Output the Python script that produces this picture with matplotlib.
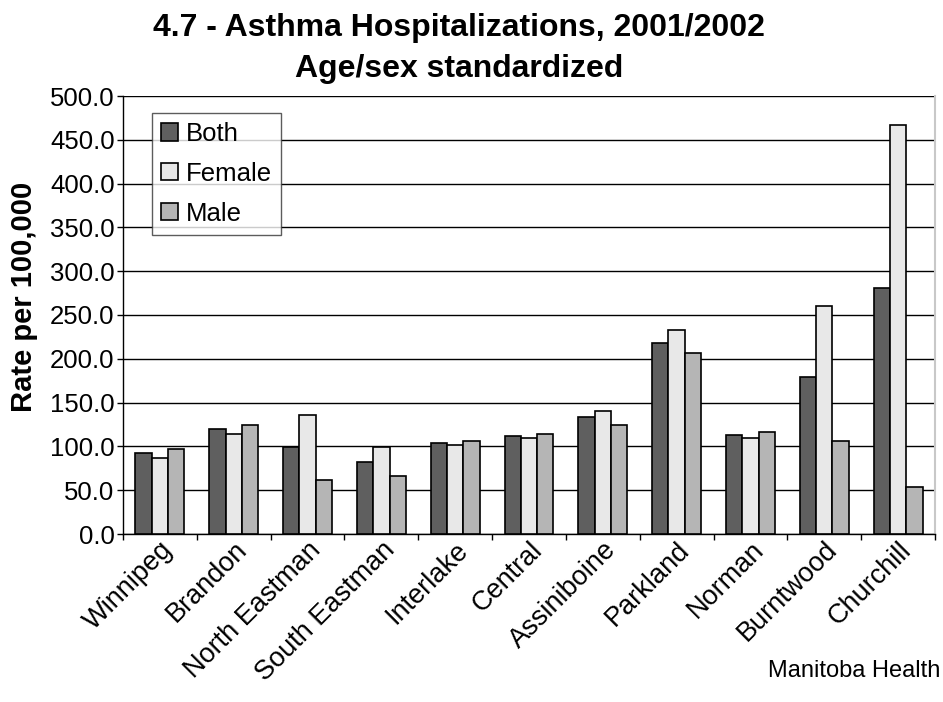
import matplotlib
matplotlib.use("Agg")
import matplotlib.pyplot as plt
import numpy as np

plt.rcParams['font.family'] = ['Liberation Sans', 'DejaVu Sans']

regions = ["Winnipeg", "Brandon", "North Eastman", "South Eastman", "Interlake",
           "Central", "Assiniboine", "Parkland", "Norman", "Burntwood", "Churchill"]
both = [92.7, 120.1, 99.2, 82.0, 104.1, 112.1, 133.9, 218.5, 112.9, 179.6, 281.1]
female = [86.3, 114.0, 135.8, 99.2, 101.1, 109.8, 140.4, 233.0, 109.1, 260.5, 466.5]
male = [96.6, 124.7, 61.1, 66.0, 105.7, 114.4, 124.4, 206.7, 116.4, 106.0, 53.4]
series_names = ["Both", "Female", "Male"]
yticks = np.arange(0, 501, 50)

colors = ["#5f5f5f", "#e8e8e8", "#b5b5b5"]

W, H = 943, 702
fig = plt.figure(figsize=(W / 100, H / 100), dpi=100)
ax = fig.add_axes([123 / W, 1 - 534 / H, 812 / W, (534 - 96) / H])

x = np.arange(len(regions))
w = 0.221
for i, (vals, name) in enumerate(zip([both, female, male], series_names)):
    ax.bar(x + (i - 1) * w, vals, width=w, color=colors[i], edgecolor="black",
           linewidth=1.2, label=name, zorder=3)

ax.set_xlim(-0.5, len(regions) - 0.5)
ax.set_ylim(0, 500)
ax.set_yticks(yticks)
ax.set_yticklabels([f"{v:.1f}" for v in yticks], fontsize=18.5)
ax.yaxis.grid(True, color="black", linewidth=1.0, zorder=0)
ax.set_axisbelow(True)

ax.set_xticks(x)
ax.set_xticklabels(regions, rotation=45, ha="right", va="top",
                   rotation_mode="anchor", fontsize=19.5)
ax.tick_params(axis="x", which="major", length=0, pad=2)
ax.set_xticks(np.arange(-0.5, len(regions), 1), minor=True)
ax.tick_params(axis="x", which="minor", length=4, width=1, direction="out")
ax.tick_params(axis="y", length=4, width=1, direction="out", pad=2)

ax.spines["top"].set_visible(False)
ax.spines["right"].set_color("#c8c8c8")
ax.spines["right"].set_linewidth(1.5)
ax.spines["left"].set_linewidth(1.0)
ax.spines["bottom"].set_linewidth(1.0)

fig.text(24 / W, 1 - 297 / H, "Rate per 100,000", rotation=90, ha="center",
         va="center", fontsize=21, fontweight="bold")

fig.text(459 / W, 1 - 36 / H, "4.7 - Asthma Hospitalizations, 2001/2002",
         ha="center", va="baseline", fontsize=23, fontweight="bold")
fig.text(459 / W, 1 - 77 / H, "Age/sex standardized",
         ha="center", va="baseline", fontsize=23, fontweight="bold")

leg = fig.legend(*ax.get_legend_handles_labels(), loc="upper left",
                 bbox_to_anchor=(152 / W, 1 - 113 / H), fontsize=18.5,
                 handlelength=0.65, handleheight=0.65, handletextpad=0.3,
                 labelspacing=0.62, frameon=True, fancybox=False, borderpad=0.35,
                 borderaxespad=0)
leg.get_frame().set_edgecolor("#333333")
leg.get_frame().set_linewidth(1.0)
leg.set_zorder(10)

fig.text(940 / W, 1 - 677 / H, "Manitoba Health", ha="right", va="baseline",
         fontsize=17)

fig.savefig("out.png", dpi=100)
